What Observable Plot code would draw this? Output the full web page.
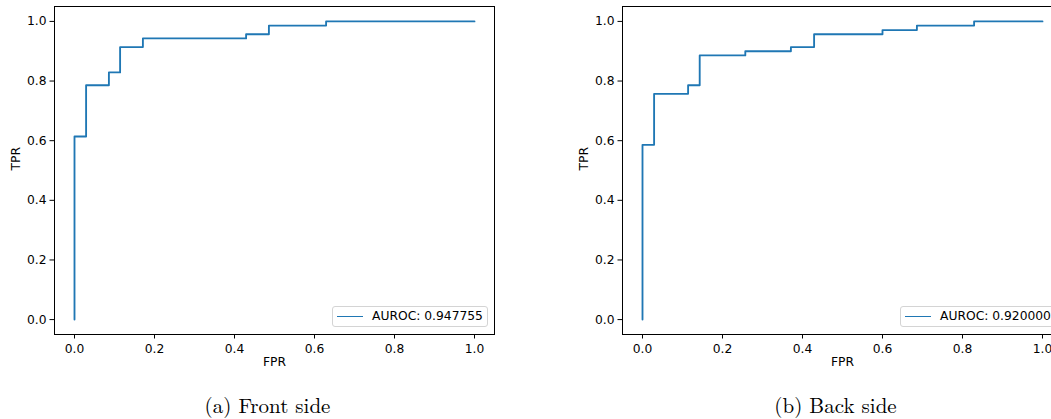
<!DOCTYPE html>
<html>
<head>
<meta charset="utf-8">
<script src="https://cdn.jsdelivr.net/npm/d3@7"></script>
<script src="https://cdn.jsdelivr.net/npm/@observablehq/plot@0.6"></script>
<style>
  html, body { margin: 0; padding: 0; background: #fff; }
  #wrap { position: relative; width: 1051px; height: 419px; overflow: hidden; background: #fff; }
  .chart { position: absolute; top: 0; }
  .legend { position: absolute; box-sizing: border-box; height: 21px; border: 1px solid #d4d4d4; border-radius: 3px; background: rgba(255,255,255,0.8); font-family: "DejaVu Sans", sans-serif; font-size: 12.3px; color: #000; }
  .legend .sw { position: absolute; left: 4px; top: 9px; width: 26px; height: 0; border-top: 1.85px solid #1f77b4; }
  .legend .tx { position: absolute; left: 39px; top: 2px; line-height: 15px; white-space: nowrap; }
  .caption { position: absolute; width: 300px; text-align: center; top: 392px; line-height: 24px; font-family: "Latin Modern Roman", "CMU Serif", "DejaVu Serif", serif; font-size: 21px; color: #000; }
</style>
</head>
<body>
<div id="wrap"></div>
<script>
// ---- data ----
const frontFpr = [0, 0, 0.029, 0.086, 0.114, 0.171, 0.429, 0.486, 0.629, 1.0];
const frontTpr = [0, 0.614, 0.786, 0.829, 0.914, 0.943, 0.957, 0.986, 1.0, 1.0];
const backFpr  = [0, 0, 0.029, 0.114, 0.143, 0.257, 0.371, 0.429, 0.600, 0.686, 0.829, 1.0];
const backTpr  = [0, 0.586, 0.757, 0.786, 0.886, 0.900, 0.914, 0.957, 0.971, 0.986, 1.0, 1.0];
const tickValues = [0, 0.2, 0.4, 0.6, 0.8, 1.0];
const xLabel = "FPR";
const yLabel = "TPR";
const legendLabels = ["AUROC: 0.947755", "AUROC: 0.920000"];
const captions = ["(a) Front side", "(b) Back side"];

const lineColor = "#1f77b4";

function makeChart(fpr, tpr) {
  const data = fpr.map((x, i) => ({fpr: x, tpr: tpr[i]}));
  return Plot.plot({
    width: 510,
    height: 379,
    marginLeft: 54,
    marginRight: 16,
    marginTop: 6,
    marginBottom: 45,
    style: {fontFamily: "DejaVu Sans, sans-serif", fontSize: "12.3px", color: "#000", background: "transparent", overflow: "visible"},
    x: {domain: [-0.05, 1.05]},
    y: {domain: [-0.05, 1.05]},
    marks: [
      Plot.line(data, {x: "fpr", y: "tpr", curve: "step-after", stroke: lineColor, strokeWidth: 1.85}),
      Plot.axisX(tickValues, {tickFormat: d3.format(".1f"), tickSize: 4.5, tickPadding: 5.5, label: null, stroke: "#000"}),
      Plot.axisY(tickValues, {tickFormat: d3.format(".1f"), tickSize: 4.5, tickPadding: 3.5, label: null, stroke: "#000"}),
      Plot.frame({stroke: "#000", strokeWidth: 1}),
      Plot.text([xLabel], {frameAnchor: "bottom", dy: 31.5, fill: "#000"}),
      Plot.text([yLabel], {frameAnchor: "left", dx: -38.5, rotate: -90, fill: "#000"})
    ]
  });
}

const wrap = document.getElementById("wrap");
const panels = [
  {fpr: frontFpr, tpr: frontTpr, left: 0, legLeft: 332, legWidth: 156, cap: 267.5},
  {fpr: backFpr, tpr: backTpr, left: 568, legLeft: 900, legWidth: 156, cap: 835.5}
];
panels.forEach((p, i) => {
  const svg = makeChart(p.fpr, p.tpr);
  svg.classList.add("chart");
  svg.style.left = p.left + "px";
  wrap.appendChild(svg);

  const leg = document.createElement("div");
  leg.className = "legend";
  leg.style.left = p.legLeft + "px";
  leg.style.top = "306px";
  leg.style.width = p.legWidth + "px";
  const sw = document.createElement("div"); sw.className = "sw";
  const tx = document.createElement("div"); tx.className = "tx"; tx.textContent = legendLabels[i];
  leg.appendChild(sw); leg.appendChild(tx);
  wrap.appendChild(leg);

  const cap = document.createElement("div");
  cap.className = "caption";
  cap.style.left = (p.cap - 150) + "px";
  cap.textContent = captions[i];
  wrap.appendChild(cap);
});
</script>
</body>
</html>
